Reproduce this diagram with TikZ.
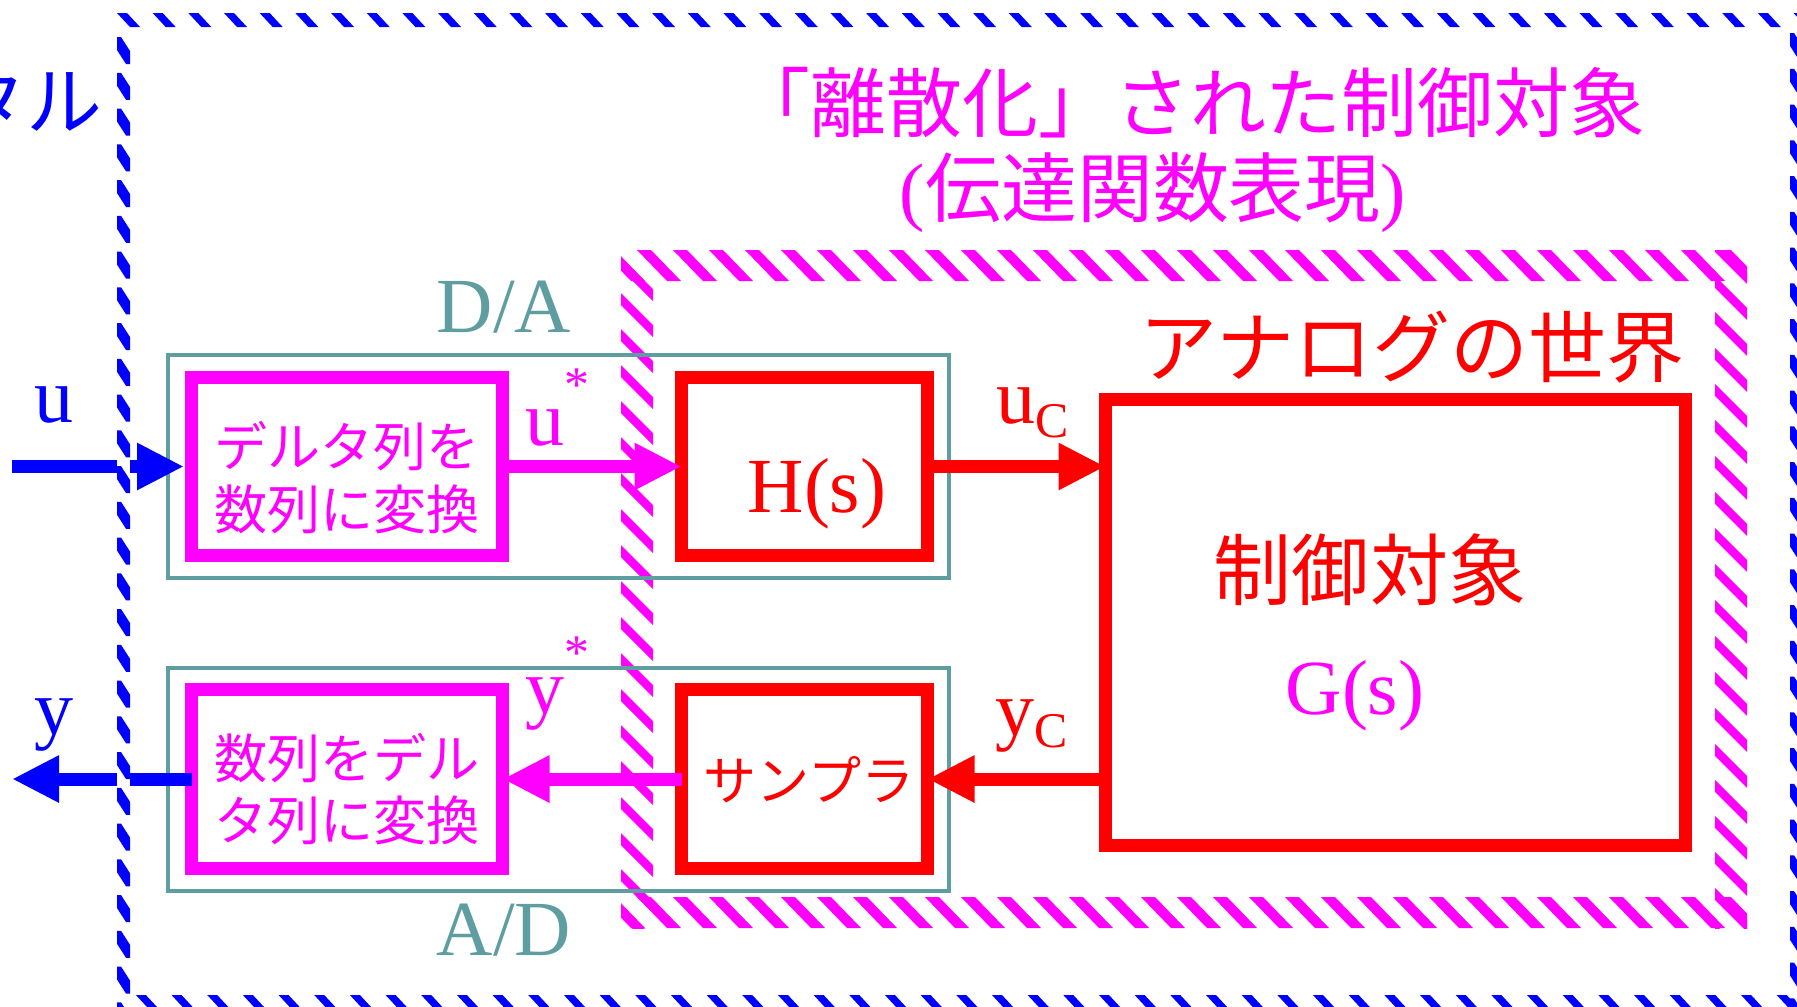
\documentclass[tikz,border=0pt]{standalone}
\usepackage{fontspec}
\setmainfont{Liberation Serif}
\newfontfamily\jp{Noto Sans CJK JP}
\usetikzlibrary{arrows.meta}
\definecolor{mag}{RGB}{255,0,255}
\definecolor{rd}{RGB}{255,0,0}
\definecolor{bl}{RGB}{0,0,255}
\definecolor{tl}{RGB}{95,158,160}
\begin{document}
\begin{tikzpicture}[x=0.1mm,y=-0.1mm,
  blk/.style={draw, line width=1.3mm, outer sep=0pt, inner sep=0pt},
  frame/.style={draw=tl, line width=0.4mm, outer sep=0pt, inner sep=0pt},
  sig/.style={line width=1.3mm, -{Triangle[length=4.7mm,width=4.4mm]}},
  lat/.style={font=\fontsize{22.2}{26}\selectfont, inner sep=0pt},
  jbig/.style={font=\jp\fontsize{21.6}{26}\selectfont, inner sep=0pt},
  jmid/.style={font=\jp\fontsize{22.2}{26}\selectfont, inner sep=0pt},
  jsm/.style={font=\jp\fontsize{15.1}{18}\selectfont, inner sep=0pt},
  small/.style={font=\fontsize{14.2}{16}\selectfont}
]
\useasboundingbox (0,0) rectangle (1797,1006);
\clip (0,0) rectangle (1797,1006);
\fill[white] (0,0) rectangle (1797,1006);

% magenta hatched band
\begin{scope}
  \clip (621,250) rectangle (1747,281);
  \foreach \k in {0,...,32} {\fill[mag] ({601+36*\k},250) -- ++(14,0) -- ++(30,31) -- ++(-14,0) -- cycle;}
\end{scope}
\begin{scope}
  \clip (621,897) rectangle (1747,928);
  \foreach \k in {0,...,32} {\fill[mag] ({601+36*\k},897) -- ++(14,0) -- ++(30,31) -- ++(-14,0) -- cycle;}
\end{scope}
\begin{scope}
  \clip (621,257) rectangle (653,928);
  \foreach \k in {0,...,19} {\fill[mag] (621,{257+36*\k}) -- ++(32,32) -- ++(0,12) -- ++(-32,-32) -- cycle;}
\end{scope}
\begin{scope}
  \clip (1715,250) rectangle (1747,928);
  \foreach \k in {0,...,19} {\fill[mag] (1715,{240+36*\k}) -- ++(32,32) -- ++(0,12) -- ++(-32,-32) -- cycle;}
\end{scope}

% teal frames
\node[frame, minimum width=78.1mm, minimum height=22.3mm] (da) at (558.5,466.5) {};
\node[frame, minimum width=78.1mm, minimum height=22.3mm] (ad) at (558.5,779.5) {};

% blocks
\node[blk, draw=mag, minimum width=31.1mm, minimum height=17.8mm] (b1) at (347,466.5) {};
\node[blk, draw=mag, minimum width=31.1mm, minimum height=17.9mm] (b2) at (347,779) {};
\node[blk, draw=rd, minimum width=24.6mm, minimum height=17.8mm] (H) at (804.5,466.5) {};
\node[blk, draw=rd, minimum width=24.6mm, minimum height=17.9mm] (S) at (804.5,779) {};
\node[blk, draw=rd, minimum width=58mm, minimum height=44.6mm] (G) at (1395.5,622.5) {};

% connectors
\coordinate (uin) at (12,466.5);
\coordinate (yout) at (12,779);
\draw[sig, bl, shorten >=0.75mm] (uin) -- (b1.west);
\draw[sig, mag] (b1.east) -- (H.west);
\draw[sig, rd] (H.east) -- (H.east -| G.west);
\draw[sig, rd] (S.east -| G.west) -- (S.east);
\draw[sig, mag] (S.west) -- (b2.east);
\draw[sig, bl] (b2.west) -- (yout);

% labels
\node[lat, bl, anchor=base] (ulab) at (54,422) {u};
\node[lat, bl, anchor=base] (ylab) at (54,734) {y};
\node[lat, tl, anchor=base] (dalab) at (504,332) {D/A};
\node[lat, tl, anchor=base] (adlab) at (504,955) {A/D};
\node[lat, mag, anchor=base west] (ustar) at (525,445) {u\raisebox{4.35mm}{\fontsize{14.2}{16}\selectfont *}};
\node[lat, mag, anchor=base west] (ystar) at (525,713) {y\raisebox{4.35mm}{\fontsize{14.2}{16}\selectfont *}};
\node[lat, rd, anchor=base west] (uc) at (996,423) {u\raisebox{-1.4mm}{\fontsize{14.2}{16}\selectfont C}};
\node[lat, rd, anchor=base west] (yc) at (995,735) {y\raisebox{-1.2mm}{\fontsize{14.2}{16}\selectfont C}};
\node[lat, rd, anchor=base] (Hlab) at (817,512) {H(s)};
\node[lat, mag, anchor=base] (Glab) at (1355,714) {G(s)};

\node[jbig, mag] (t1) at (1190,103) {「離散化」された制御対象};
\node[jbig, mag] (t2) at (1153,193) {{\rmfamily(}伝達関数表現{\rmfamily)}};
\node[jmid, rd] (ana) at (1412,347) {アナログの世界};
\node[jmid, rd] (seigyo) at (1370,570) {制御対象};
\node[jsm, mag] (b1t1) at (347,446) {デルタ列を};
\node[jsm, mag] (b1t2) at (347,509) {数列に変換};
\node[jsm, mag] (b2t1) at (347,758) {数列をデル};
\node[jsm, mag] (b2t2) at (347,820) {タ列に変換};
\node[jsm, rd] (samp) at (809,780) {サンプラ};
\node[jbig, bl, anchor=east] (dig) at (103,99) {デジタル};

% blue dashed band
\fill[white] (117,13) rectangle (1810,27);
\fill[white] (117,13) rectangle (130,1010);
\fill[white] (1790,13) rectangle (1803,1010);
\fill[white] (117,995) rectangle (1810,1009);
\foreach \k in {0,...,47} {\fill[bl] ({117+35.67*\k},13) -- ++(10,0) -- ++(13,14) -- ++(-10,0) -- cycle;}
\foreach \k in {-11,...,36} {\fill[bl] ({1420-35.67*\k},995) -- ++(10,0) -- ++(13,14) -- ++(-10,0) -- cycle;}
\foreach \k in {0,...,27} {\fill[bl] (117,{37+35.75*\k}) -- ++(4,0) -- ++(9,14) -- ++(0,13) -- ++(-4,0) -- ++(-9,-14) -- cycle;}
\foreach \k in {0,...,27} {\fill[bl] (1790,{33+35.75*\k}) -- ++(4,0) -- ++(9,14) -- ++(0,13) -- ++(-4,0) -- ++(-9,-14) -- cycle;}
\end{tikzpicture}
\end{document}
